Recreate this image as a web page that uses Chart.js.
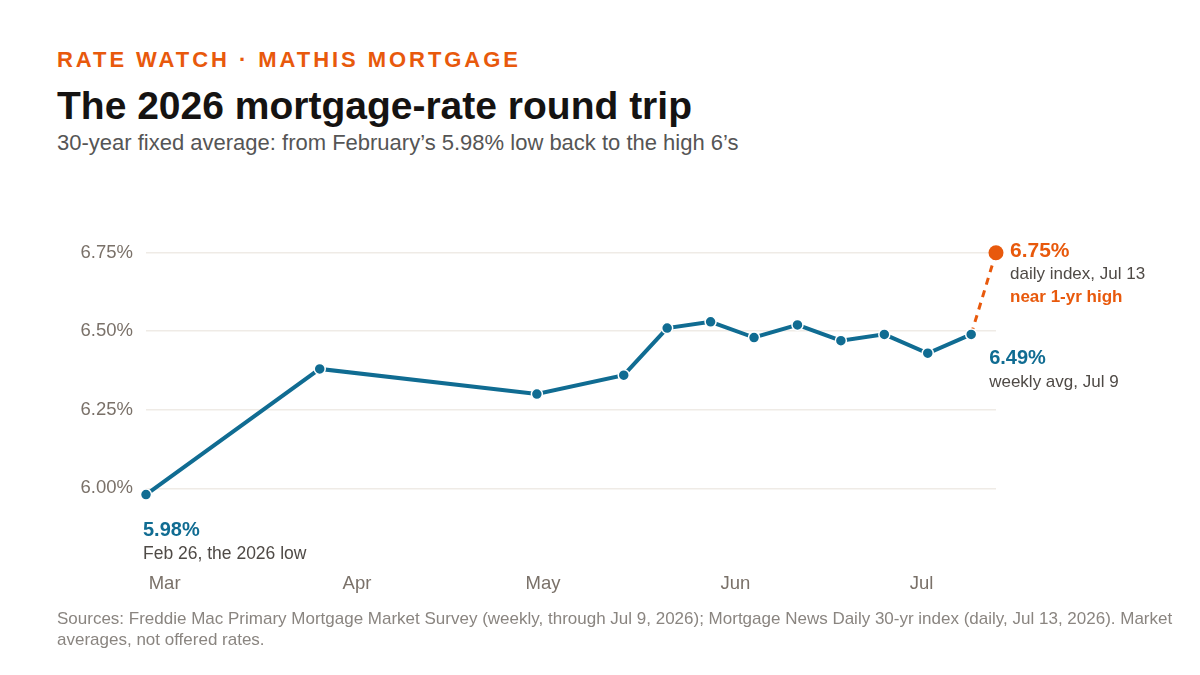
<!DOCTYPE html>
<html>
<head>
<meta charset="utf-8">
<script src="https://cdn.jsdelivr.net/npm/chart.js@4.4.1/dist/chart.umd.min.js"></script>
<style>
  html, body { margin: 0; padding: 0; background: #fff; }
  body { width: 1200px; height: 675px; position: relative; overflow: hidden; font-family: "Liberation Sans", Arial, sans-serif; }
  .txt { position: absolute; left: 57px; white-space: nowrap; line-height: 1; }
  #kicker { top: 49px; font-size: 22px; font-weight: bold; color: #e8590c; letter-spacing: 2.95px; }
  #title { top: 86px; font-size: 39px; font-weight: bold; color: #151312; }
  #subtitle { top: 132px; font-size: 22px; color: #555; }
  #source { top: 608px; width: 1132px; white-space: normal; font-size: 17px; line-height: 21px; color: #8a8580; }
  #chart { position: absolute; left: 0; top: 0; }
</style>
</head>
<body>
<div class="txt" id="kicker">RATE WATCH · MATHIS MORTGAGE</div>
<div class="txt" id="title">The 2026 mortgage-rate round trip</div>
<div class="txt" id="subtitle">30-year fixed average: from February’s 5.98% low back to the high 6’s</div>
<canvas id="chart" width="1200" height="675"></canvas>
<div class="txt" id="source">Sources: Freddie Mac Primary Mortgage Market Survey (weekly, through Jul 9, 2026); Mortgage News Daily 30-yr index (daily, Jul 13, 2026). Market averages, not offered rates.</div>

<script>
// weekly Freddie Mac averages
const weeklyDates = ['2026-02-26', '2026-03-26', '2026-04-30', '2026-05-14', '2026-05-21', '2026-05-28',
  '2026-06-04', '2026-06-11', '2026-06-18', '2026-06-25', '2026-07-02', '2026-07-09'];
const weeklyRates = [5.98, 6.38, 6.30, 6.36, 6.51, 6.53, 6.48, 6.52, 6.47, 6.49, 6.43, 6.49];

// daily index jump after the last weekly print
const dailyDates = ['2026-07-09', '2026-07-13'];
const dailyRates = [6.49, 6.75];

const monthTicks = ['2026-03-01', '2026-04-01', '2026-05-01', '2026-06-01', '2026-07-01'];
const monthLabels = ['Mar', 'Apr', 'May', 'Jun', 'Jul'];
const rateTicks = [6.00, 6.25, 6.50, 6.75];

const BLUE = '#106c92';
const ORANGE = '#e8590c';
const DARK = '#4f4a46';
const FONT = '"Liberation Sans", Arial, sans-serif';

// day of year, so the x axis is a plain linear scale
function dayNum(s) {
  const [y, m, d] = s.split('-').map(Number);
  return (Date.UTC(y, m - 1, d) - Date.UTC(y, 0, 1)) / 86400000 + 1;
}

const weeklyPts = weeklyDates.map((d, i) => ({ x: dayNum(d), y: weeklyRates[i] }));
const dailyPts = dailyDates.map((d, i) => ({ x: dayNum(d), y: dailyRates[i] }));
const monthVals = monthTicks.map(dayNum);

function drawText(ctx, str, x, y, font, color) {
  ctx.font = font;
  ctx.fillStyle = color;
  ctx.fillText(str, x, y);
}

const callouts = {
  id: 'callouts',
  afterDatasetsDraw(chart) {
    const ctx = chart.ctx;
    const wk = chart.getDatasetMeta(1).data;
    const dl = chart.getDatasetMeta(0).data;
    const low = wk[0];
    const last = wk[wk.length - 1];
    const high = dl[dl.length - 1];
    ctx.save();
    ctx.textAlign = 'left';
    ctx.textBaseline = 'alphabetic';

    drawText(ctx, weeklyRates[0].toFixed(2) + '%', low.x - 3, low.y + 41, 'bold 20px ' + FONT, BLUE);
    drawText(ctx, 'Feb 26, the 2026 low', low.x - 3, low.y + 64, '17.5px ' + FONT, DARK);

    drawText(ctx, dailyRates[dailyRates.length - 1].toFixed(2) + '%', high.x + 14, high.y + 4, 'bold 21px ' + FONT, ORANGE);
    drawText(ctx, 'daily index, Jul 13', high.x + 14, high.y + 26, '17px ' + FONT, DARK);
    drawText(ctx, 'near 1-yr high', high.x + 14, high.y + 49, 'bold 17px ' + FONT, ORANGE);

    drawText(ctx, weeklyRates[weeklyRates.length - 1].toFixed(2) + '%', last.x + 18, last.y + 30, 'bold 20px ' + FONT, BLUE);
    drawText(ctx, 'weekly avg, Jul 9', last.x + 18, last.y + 53, '17px ' + FONT, DARK);
    ctx.restore();
  }
};

new Chart(document.getElementById('chart'), {
  type: 'line',
  data: {
    datasets: [
      {
        label: 'Daily index',
        data: dailyPts,
        borderColor: ORANGE,
        borderWidth: 3,
        borderDash: [7, 6],
        pointRadius: [0, 7.5],
        pointBackgroundColor: ORANGE,
        pointBorderWidth: 0,
        clip: false,
        order: 2
      },
      {
        label: 'Weekly average',
        data: weeklyPts,
        borderColor: BLUE,
        borderWidth: 4,
        pointRadius: 5.5,
        pointBackgroundColor: BLUE,
        pointBorderColor: '#fff',
        pointBorderWidth: 1.5,
        clip: false,
        order: 1
      }
    ]
  },
  options: {
    responsive: false,
    animation: false,
    layout: { padding: { left: 0, right: 204, top: 237, bottom: 0 } },
    plugins: { legend: { display: false }, tooltip: { enabled: false } },
    scales: {
      x: {
        type: 'linear',
        min: dayNum(weeklyDates[0]),
        max: dayNum(dailyDates[dailyDates.length - 1]),
        grid: { display: false },
        border: { display: false },
        afterFit(scale) { scale.height = 171; },
        afterBuildTicks(scale) { scale.ticks = monthVals.map(v => ({ value: v })); },
        ticks: {
          autoSkip: false,
          maxRotation: 0,
          padding: 61,
          color: '#7a7169',
          font: { family: FONT, size: 18.5 },
          callback: (v) => monthLabels[monthVals.indexOf(v)]
        }
      },
      y: {
        min: 5.95,
        max: 6.80,
        grid: { color: '#efebe6', lineWidth: 1.5, drawTicks: false },
        border: { display: false },
        afterFit(scale) { scale.width = 146; },
        afterBuildTicks(scale) { scale.ticks = rateTicks.map(v => ({ value: v })); },
        ticks: {
          padding: 13,
          color: '#7a7169',
          font: { family: FONT, size: 18.5 },
          callback: (v) => v.toFixed(2) + '%'
        }
      }
    }
  },
  plugins: [callouts]
});
</script>
</body>
</html>
